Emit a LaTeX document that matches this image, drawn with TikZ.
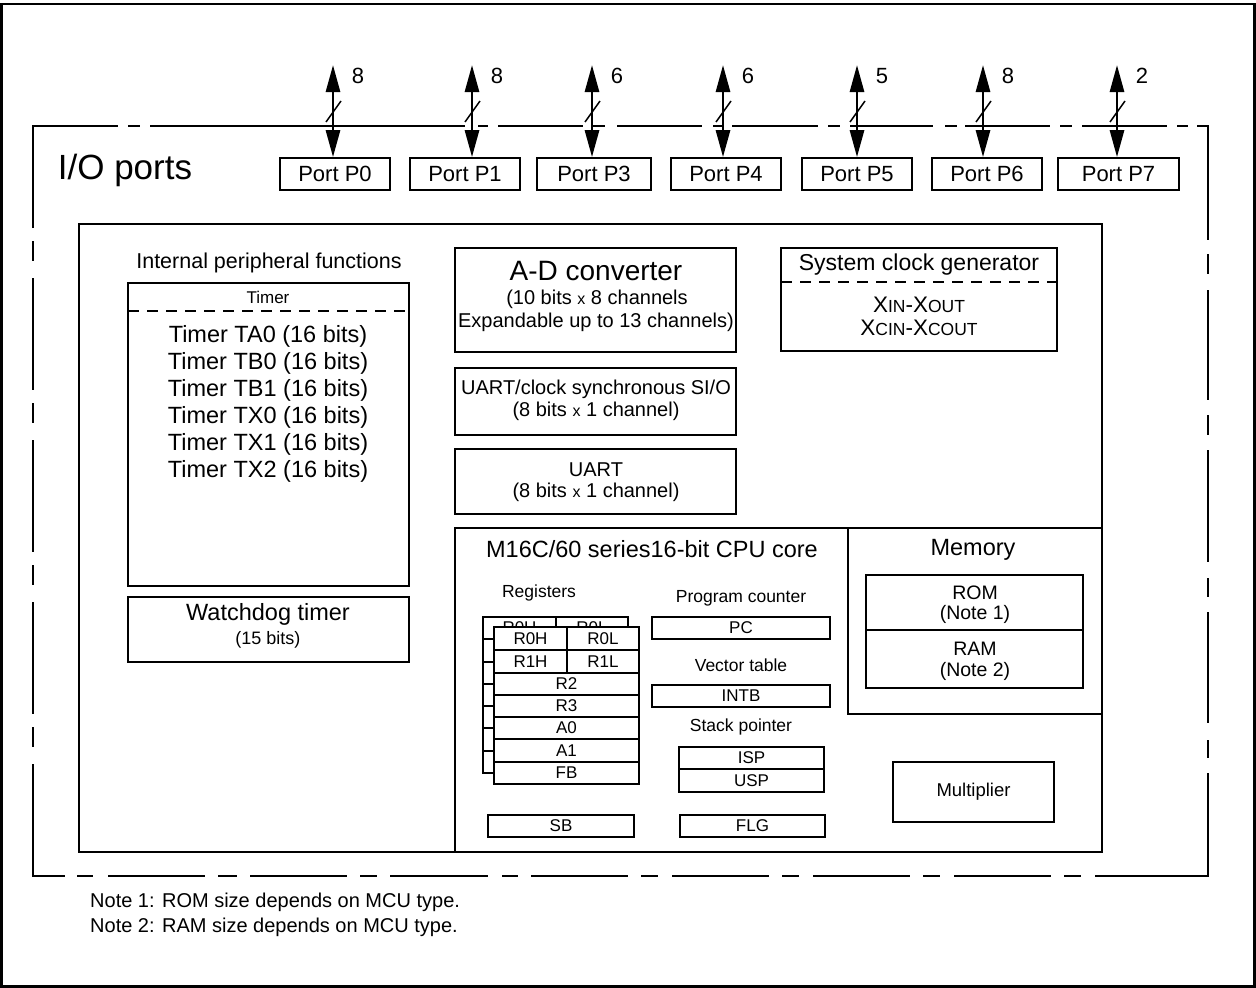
\documentclass[tikz,border=0pt]{standalone}
\usepackage{fontspec}
\setmainfont{Liberation Sans}
\usetikzlibrary{arrows.meta}
\newcommand\fs[1]{\fontsize{#1}{#1}\selectfont}
\newcommand\cell[7][]{\node[box,#1,minimum width={#5-#3},minimum height={#6-#4}] (#2) at ({(#3+#5)/2},{(#4+#6)/2}) {#7};}
\begin{document}
\begin{tikzpicture}[x=1pt,y=-1pt,
  box/.style={draw,line width=1.7pt,inner sep=0pt,fill=white},
  thinbox/.style={line width=1.5pt},
  lbl/.style={inner sep=0pt,anchor=center},
  bdr/.style={line width=1.8pt},
  bus/.style={line width=2.8pt,{Triangle[length=27pt,width=14pt]}-{Triangle[length=27pt,width=14pt]}}]
\useasboundingbox (0,0) rectangle (1256,988);
% outer frame
\draw[line width=2.6pt] (1.5,4) rectangle (1254.5,986.5);
% I/O ports dashed border
\draw[bdr] (33,228)--(33,126)--(118,126);
\draw[bdr] (1197,126)--(1208,126)--(1208,240);
\draw[bdr] (33,764)--(33,876)--(65,876);
\draw[bdr] (1095,876)--(1208,876)--(1208,773);
\foreach \a/\b in {128/140,150/465,478/488,498/583,593/605,617/702,713/723,732/818,828/840,850/933,945/957,965/1050,1060/1072,1082/1167,1177/1188}
  \draw[bdr] (\a,126)--(\b,126);
\foreach \a/\b in {241/261,278/390,403/423,440/552,565/585,602/714,727/747}
  \draw[bdr] (33,\a)--(33,\b);
\foreach \a/\b in {254/274,290/400,415/435,450/562,578/597,612/723,740/758}
  \draw[bdr] (1208,\a)--(1208,\b);
\foreach \a/\b in {77/93,108/205,218/237,250/347,360/377,390/488,502/518,531/628,641/658,672/769,782/799,813/910,923/940,954/1051,1064/1081}
  \draw[bdr] (\a,876)--(\b,876);
\node[lbl,font=\fs{35}] (io) at (125,170) {I/O ports};
% ports
\cell[font=\fs{22}]{P0}{280}{158}{390}{190}{Port P0}
\cell[font=\fs{22}]{P1}{410}{158}{520}{190}{Port P1}
\cell[font=\fs{22}]{P3}{537}{158}{651}{190}{Port P3}
\cell[font=\fs{22}]{P4}{671}{158}{781}{190}{Port P4}
\cell[font=\fs{22}]{P5}{802}{158}{912}{190}{Port P5}
\cell[font=\fs{22}]{P6}{932}{158}{1042}{190}{Port P6}
\cell[font=\fs{22}]{P7}{1058}{158}{1179}{190}{Port P7}
\foreach \n/\x/\v in {P0/333/8,P1/472/8,P3/592/6,P4/723/6,P5/857/5,P6/983/8,P7/1117/2}{
  \coordinate (t\n) at (\x,65);
  \draw[bus] (t\n) -- (t\n |- \n.north);
  \draw[line width=1.5pt] (\x-7,122) -- (\x+8,101);
  \node[lbl,font=\fs{22}] (n\n) at (\x+25,76) {\v};
}
% inner box
\cell[fill=none,line width=1.8pt]{inner}{79}{224}{1102}{852}{}
% internal peripheral functions
\node[lbl,font=\fs{21.5}] (ipf) at (269,263) {Internal peripheral functions};
\cell[line width=1.8pt]{timer}{128}{283}{409}{586}{}
\draw[line width=1.6pt,dash pattern=on 11pt off 8pt] (128,311)--(409,311);
\node[lbl,font=\fs{17}] (tmt) at (268,297) {Timer};
\foreach \t/\y in {TA0/336,TB0/363,TB1/390,TX0/417,TX1/444,TX2/471}
  \node[lbl,font=\fs{23.5}] (tm\t) at (268,\y) {Timer \t\ (16 bits)};
\cell[line width=1.8pt]{wdt}{128}{597}{409}{662}{}
\node[lbl,font=\fs{23.5}] (wdt1) at (268,614) {Watchdog timer};
\node[lbl,font=\fs{18}] (wdt2) at (268,640) {(15 bits)};
% A-D
\cell[line width=1.8pt]{ad}{455}{248}{736}{352}{}
\node[lbl,font=\fs{28}] (ad1) at (596,271) {A-D converter};
\node[lbl,font=\fs{20}] (ad2) at (597,299) {(10 bits {\fs{16}x} 8 channels};
\node[lbl,font=\fs{20}] (ad3) at (596,322) {Expandable up to 13 channels)};
% UART sync
\cell[line width=1.8pt]{us}{455}{368}{736}{435}{}
\node[lbl,font=\fs{20}] (us1) at (596,389) {UART/clock synchronous SI/O};
\node[lbl,font=\fs{20}] (us2) at (596,411) {(8 bits {\fs{16}x} 1 channel)};
\cell[line width=1.8pt]{ua}{455}{449}{736}{514}{}
\node[lbl,font=\fs{20}] (ua1) at (596,470) {UART};
\node[lbl,font=\fs{20}] (ua2) at (596,492) {(8 bits {\fs{16}x} 1 channel)};
% clock generator
\cell[line width=1.8pt]{clk}{781}{248}{1057}{351}{}
\draw[line width=1.6pt,dash pattern=on 11pt off 8pt] (781,282)--(1057,282);
\node[lbl,font=\fs{23}] (clk1) at (919,265) {System clock generator};
\node[lbl,font=\fs{22.5}] (clk2) at (919,305) {X{\fs{17.5}IN}-X{\fs{17.5}OUT}};
\node[lbl,font=\fs{22.5}] (clk3) at (919,328) {X{\fs{17.5}CIN}-X{\fs{17.5}COUT}};
% CPU core
\cell[line width=1.8pt]{cpu}{455}{528}{1102}{852}{}
\cell[line width=1.8pt]{mem}{848}{528}{1102}{714}{}
\node[lbl,font=\fs{23.5}] (cput) at (652,549) {M16C/60 series16-bit CPU core};
\node[lbl,font=\fs{23.5}] (memt) at (973,550) {Memory};
\cell[line width=1.7pt]{rom}{866}{575}{1083}{630}{}
\cell[line width=1.7pt]{ram}{866}{630}{1083}{688}{}
\node[lbl,font=\fs{19.5}] (rom1) at (975,593) {ROM};
\node[lbl,font=\fs{19.5}] (rom2) at (975,614) {(Note 1)};
\node[lbl,font=\fs{19.5}] (ram1) at (975,649) {RAM};
\node[lbl,font=\fs{19.5}] (ram2) at (975,671) {(Note 2)};
% registers
\node[lbl,font=\fs{17.5}] (regt) at (539,593) {Registers};
\begin{scope}[every node/.append style={thinbox,font=\fs{17}}]
\cell{bR0H}{483}{617}{556}{639}{R0H}
\cell{bR0L}{556}{617}{628}{639}{R0L}
\cell{bR1H}{483}{639}{556}{662}{}
\cell{bR1L}{556}{639}{628}{662}{}
\cell{bR2}{483}{662}{628}{684}{}
\cell{bR3}{483}{684}{628}{706}{}
\cell{bA0}{483}{706}{628}{728}{}
\cell{bA1}{483}{728}{628}{751}{}
\cell{bFB}{483}{751}{628}{773}{}
\cell{R0H}{494}{627}{567}{650}{R0H}
\cell{R0L}{567}{627}{639}{650}{R0L}
\cell{R1H}{494}{650}{567}{673}{R1H}
\cell{R1L}{567}{650}{639}{673}{R1L}
\cell{R2}{494}{673}{639}{695}{R2}
\cell{R3}{494}{695}{639}{717}{R3}
\cell{A0}{494}{717}{639}{739}{A0}
\cell{A1}{494}{739}{639}{762}{A1}
\cell{FB}{494}{762}{639}{784}{FB}
\cell{SB}{488}{815}{634}{837}{SB}
\cell{PC}{652}{617}{830}{639}{PC}
\cell{INTB}{652}{685}{830}{707}{INTB}
\cell{ISP}{679}{747}{824}{769}{ISP}
\cell{USP}{679}{769}{824}{792}{USP}
\cell{FLG}{680}{815}{825}{837}{FLG}
\end{scope}
\node[lbl,font=\fs{17.5}] (pct) at (741,598) {Program counter};
\node[lbl,font=\fs{17.5}] (vtt) at (741,665) {Vector table};
\node[lbl,font=\fs{17.5}] (spt) at (741,727) {Stack pointer};
\cell[line width=1.7pt,font=\fs{18.5}]{mul}{893}{762}{1054}{822}{Multiplier}
% notes
\node[lbl,anchor=west,font=\fs{20}] (note1) at (90,902) {Note 1: ROM size depends on MCU type.};
\node[lbl,anchor=west,font=\fs{20}] (note2) at (90,927) {Note 2: RAM size depends on MCU type.};
\end{tikzpicture}
\end{document}
